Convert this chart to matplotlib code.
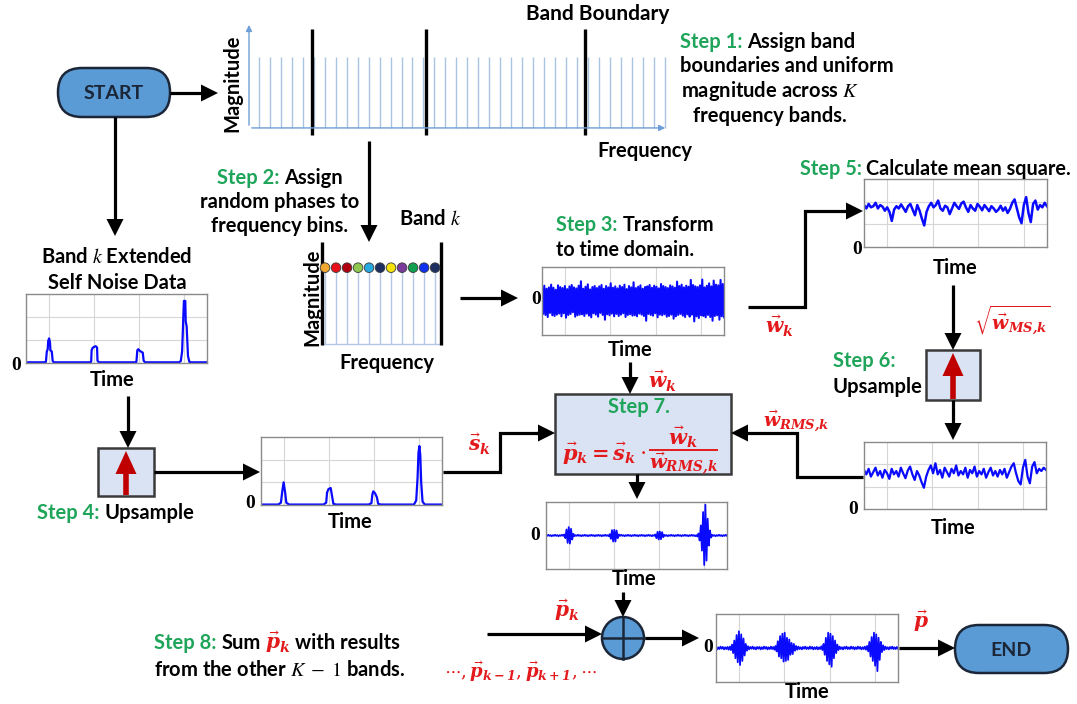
import numpy as np
import matplotlib.pyplot as plt
from matplotlib.patches import FancyBboxPatch, Rectangle, Circle, Polygon

plt.rcParams['font.family'] = ['Lato', 'DejaVu Sans']
plt.rcParams['mathtext.fontset'] = 'stix'

# ---- data ----
# uniform spectrum over all bins, band boundaries in bin units
spec_bins = np.arange(1, 39)
spec_mag = np.ones(len(spec_bins))
band_edges = [5.8, 16.25, 30.7]

# one band: bins with random phase (shown as coloured dots)
band_bins = np.arange(1, 12)
band_mag = np.ones(len(band_bins))
band_lims = [0.7, 11.55]
phase_colors = ['#f0a830', '#e8101a', '#b00010', '#8fc850', '#28a8e0', '#1c2f60',
                '#f4e20a', '#7a3b9a', '#10a050', '#1030f0', '#1c2f60']

# band k extended self noise (time, value)
self_t = [0.00, 0.40, 0.44, 0.46, 0.48, 0.49, 0.51, 0.53, 0.54, 0.57, 0.59, 0.62,
          1.40, 1.44, 1.45, 1.47, 1.50, 1.54, 1.57, 1.58, 1.61,
          2.40, 2.44, 2.46, 2.48, 2.52, 2.58, 2.60, 2.63,
          3.38, 3.42, 3.45, 3.47, 3.48, 3.49, 3.52, 3.53, 3.55, 3.58, 3.61, 3.65, 4.00]
self_v = [0.03, 0.03, 0.05, 0.50, 0.60, 0.95, 1.07, 0.90, 0.55, 0.50, 0.08, 0.03,
          0.03, 0.05, 0.55, 0.65, 0.70, 0.73, 0.68, 0.10, 0.03,
          0.03, 0.05, 0.55, 0.60, 0.52, 0.45, 0.10, 0.03,
          0.03, 0.08, 0.50, 1.60, 2.20, 2.70, 2.70, 1.80, 1.60, 0.30, 0.05, 0.03, 0.03]

# upsampled self noise s_k (time, value)
up_t = [0.00, 0.38, 0.44, 0.47, 0.50, 0.53, 0.56, 0.62,
        1.38, 1.44, 1.46, 1.49, 1.54, 1.57, 1.60, 1.66,
        2.38, 2.44, 2.46, 2.48, 2.52, 2.56, 2.59, 2.65,
        3.38, 3.43, 3.46, 3.48, 3.50, 3.52, 3.54, 3.57, 3.62, 4.00]
up_v = [0.02, 0.02, 0.10, 0.60, 1.00, 0.60, 0.10, 0.02,
        0.02, 0.10, 0.55, 0.70, 0.75, 0.40, 0.05, 0.02,
        0.02, 0.08, 0.45, 0.60, 0.52, 0.35, 0.05, 0.02,
        0.02, 0.20, 1.20, 2.30, 2.60, 2.20, 1.00, 0.15, 0.02, 0.02]

# white noise in time domain w_k
w_k = [0.42, -0.38, 0.45, -0.41, 0.36, -0.47, 0.40, -0.35, 0.48, -0.42, 0.39, -0.44, 0.33, -0.40, 0.46, -0.37,
       0.41, -0.45, 0.38, -0.36, 0.44, -0.49, 0.35, -0.41, 0.43, -0.38, 0.47, -0.33, 0.40, -0.46, 0.37, -0.42,
       0.45, -0.40, 0.58, -0.39, 0.36, -0.44, 0.42, -0.37, 0.49, -0.43, 0.34, -0.48, 0.41, -0.36, 0.44, -0.40,
       0.38, -0.46, 0.43, -0.35, 0.47, -0.41, 0.36, -0.55, 0.44, -0.39, 0.40, -0.42, 0.52, -0.37, 0.39, -0.45,
       0.43, -0.38, 0.37, -0.44, 0.45, -0.40, 0.41, -0.36, 0.48, -0.47, 0.35, -0.41, 0.44, -0.39, 0.40, -0.43,
       0.55, -0.42, 0.38, -0.45, 0.42, -0.37, 0.46, -0.40, 0.36, -0.44, 0.41, -0.58, 0.43, -0.38, 0.47, -0.41,
       0.39, -0.43, 0.45, -0.36, 0.42, -0.48, 0.37, -0.40, 0.50, -0.42, 0.44, -0.39, 0.41, -0.46, 0.38, -0.44,
       0.46, -0.40, 0.43, -0.52, 0.39, -0.45, 0.57, -0.41, 0.44, -0.38, 0.48, -0.43, 0.40, -0.47, 0.45, -0.39,
       0.42, -0.46, 0.62, -0.40, 0.47, -0.60, 0.43, -0.45, 0.41, -0.50, 0.46, -0.42, 0.63, -0.44, 0.40, -0.48,
       0.45, -0.41, 0.52, -0.47, 0.43, -0.58, 0.60, -0.44, 0.48, -0.42, 0.46, -0.55, 0.62, -0.45, 0.50, -0.48]

# mean square of w_k
w_ms = [1.85, 1.70, 1.90, 1.75, 1.80, 1.95, 1.70, 1.85, 1.78, 1.60,
        1.75, 1.55, 1.15, 1.65, 1.80, 1.70, 1.88, 1.72, 1.55, 1.80,
        1.90, 1.65, 1.40, 1.85, 1.60, 1.25, 0.95, 1.55, 1.80, 1.95,
        1.75, 1.85, 2.05, 1.70, 1.60, 1.82, 1.75, 1.45, 1.70, 1.95,
        1.80, 1.68, 1.92, 2.00, 1.75, 1.55, 1.85, 1.70, 1.60, 1.90,
        1.78, 1.62, 1.85, 1.72, 1.58, 1.80, 1.70, 1.55, 1.65, 1.82,
        1.60, 1.75, 1.50, 1.68, 1.95, 2.10, 1.70, 1.30, 1.05, 1.85,
        2.20, 1.50, 1.10, 1.90, 2.05, 1.65, 1.85, 1.75, 1.95, 1.80]

# upsampled RMS
w_rms = [1.75, 1.55, 1.80, 1.45, 1.65, 1.85, 1.50, 1.70, 1.40, 1.75,
         1.60, 1.35, 1.80, 1.55, 1.70, 1.45, 1.85, 1.60, 1.38, 1.72,
         1.90, 1.55, 1.30, 1.70, 1.50, 1.20, 0.95, 1.45, 1.75, 1.95,
         1.60, 2.05, 1.55, 1.75, 1.40, 1.85, 1.65, 1.45, 1.80, 1.60,
         1.95, 1.50, 1.70, 1.55, 1.85, 1.40, 1.75, 1.60, 1.90, 1.45,
         1.70, 1.55, 1.80, 1.40, 1.65, 1.85, 1.50, 1.70, 1.45, 1.75,
         1.55, 1.80, 1.40, 1.65, 1.90, 2.05, 1.60, 1.25, 1.10, 1.85,
         2.20, 1.45, 1.15, 1.90, 2.10, 1.60, 1.80, 1.70, 1.85, 1.75]

# band k result p_k
p_k = [0.01, -0.01, 0.02, -0.01, 0.01, -0.02, 0.01, -0.01, 0.02, -0.01, 0.01, -0.02, 0.01, -0.01, 0.02, -0.01, 0.03, -0.08, 0.18, -0.22,
       0.25, -0.24, 0.20, -0.12, 0.05, -0.02, 0.01, -0.01, 0.02, -0.01, 0.01, -0.02, 0.01, -0.01, 0.02, -0.01, 0.01, -0.02, 0.01, -0.01,
       0.02, -0.01, 0.01, -0.02, 0.01, -0.01, 0.02, -0.01, 0.01, -0.02, 0.01, -0.01, 0.02, -0.01, 0.01, -0.02, 0.04, -0.10, 0.16, -0.18,
       0.17, -0.18, 0.15, -0.08, 0.03, -0.01, 0.02, -0.01, 0.01, -0.02, 0.01, -0.01, 0.02, -0.01, 0.01, -0.02, 0.01, -0.01, 0.02, -0.01,
       0.01, -0.02, 0.01, -0.01, 0.02, -0.01, 0.01, -0.02, 0.01, -0.01, 0.02, -0.01, 0.01, -0.02, 0.01, -0.01, 0.03, -0.08, 0.11, -0.12,
       0.12, -0.11, 0.10, -0.05, 0.02, -0.01, 0.01, -0.02, 0.01, -0.01, 0.02, -0.01, 0.01, -0.02, 0.01, -0.01, 0.02, -0.01, 0.01, -0.02,
       0.01, -0.01, 0.02, -0.01, 0.01, -0.02, 0.01, -0.01, 0.02, -0.01, 0.01, -0.02, 0.01, -0.03, 0.06, -0.15, 0.30, -0.45, 0.70, -0.88,
       0.92, -0.75, 0.50, -0.30, 0.15, -0.06, 0.02, -0.01, 0.01, -0.02, 0.01, -0.01, 0.02, -0.01, 0.01, -0.02, 0.01, -0.01, 0.02, -0.01]

# final summed signal p
p_sum = [0.03, -0.04, 0.02, -0.03, 0.04, -0.02, 0.03, -0.04, 0.02, -0.03, 0.03, -0.05, 0.04, -0.06, 0.10, -0.15, 0.22, -0.30, 0.38, -0.42,
         0.49, -0.50, 0.40, -0.38, 0.28, -0.22, 0.12, -0.08, 0.05, -0.04, 0.03, -0.02, 0.04, -0.03, 0.02, -0.04, 0.03, -0.02, 0.03, -0.04,
         0.02, -0.03, 0.04, -0.02, 0.03, -0.04, 0.02, -0.03, 0.04, -0.03, 0.03, -0.05, 0.06, -0.10, 0.20, -0.25, 0.35, -0.30, 0.42, -0.40,
         0.45, -0.38, 0.30, -0.35, 0.25, -0.20, 0.15, -0.18, 0.12, -0.08, 0.06, -0.05, 0.04, -0.03, 0.02, -0.04, 0.03, -0.02, 0.04, -0.03,
         0.02, -0.03, 0.04, -0.02, 0.03, -0.04, 0.02, -0.03, 0.03, -0.04, 0.02, -0.03, 0.05, -0.06, 0.12, -0.20, 0.30, -0.38, 0.45, -0.48,
         0.42, -0.55, 0.35, -0.30, 0.22, -0.15, 0.10, -0.06, 0.04, -0.03, 0.02, -0.04, 0.03, -0.02, 0.04, -0.03, 0.02, -0.03, 0.04, -0.02,
         0.03, -0.04, 0.02, -0.03, 0.04, -0.02, 0.03, -0.04, 0.02, -0.03, 0.04, -0.05, 0.06, -0.10, 0.18, -0.25, 0.32, -0.38, 0.45, -0.52,
         0.40, -0.68, 0.30, -0.35, 0.18, -0.12, 0.08, -0.06, 0.04, -0.03, 0.02, -0.04, 0.03, -0.02, 0.04, -0.03, 0.02, -0.03, 0.03, -0.02]

GREEN = '#1fa55a'
RED = '#e31a1c'
BLUE = '#0a0aff'
FS = 14.5
MS = 14.5  # size of the red vector labels
VFONT = 'dejavuserif'

W, H = 1077, 704
fig = plt.figure(figsize=(W / 100, H / 100), dpi=100)
ax = fig.add_axes([0, 0, 1, 1])
ax.set_xlim(0, W)
ax.set_ylim(H, 0)
ax.axis('off')
ax.set_zorder(10)  # arrows and labels above the small plots
rend = fig.canvas.get_renderer()


def line(pts, lw=2.3):
    xs, ys = zip(*pts)
    ax.plot(xs, ys, color='black', lw=lw, solid_joinstyle='miter', solid_capstyle='butt', zorder=4)


def arrow(pts, head=17, width=17, lw=2.3, color='black'):
    (x0, y0), (x1, y1) = pts[-2], pts[-1]
    d = np.hypot(x1 - x0, y1 - y0)
    ux, uy = (x1 - x0) / d, (y1 - y0) / d
    bx, by = x1 - ux * head, y1 - uy * head
    xs = [p[0] for p in pts[:-1]] + [bx + ux]
    ys = [p[1] for p in pts[:-1]] + [by + uy]
    ax.plot(xs, ys, color=color, lw=lw, solid_joinstyle='miter', solid_capstyle='butt', zorder=4)
    ax.add_patch(Polygon([(x1, y1), (bx - uy * width / 2, by + ux * width / 2),
                          (bx + uy * width / 2, by - ux * width / 2)],
                         closed=True, fc=color, ec='none', zorder=4))


def rich(x, y, parts, size=FS, ha='left'):
    # parts: (text, colour, gap before) drawn on one baseline
    texts, cur = [], x
    for s, c, gap in parts:
        cur += gap
        if s.startswith('$'):
            t = ax.text(cur, y, s, color=c, fontsize=MS, va='baseline', ha='left',
                        math_fontfamily=VFONT, zorder=6)
        else:
            t = ax.text(cur, y, s, color=c, fontsize=size, fontweight='bold',
                        va='baseline', ha='left', zorder=6)
        cur += t.get_window_extent(rend).width
        texts.append(t)
    if ha != 'left':
        shift = (cur - x) if ha == 'right' else (cur - x) / 2
        for t in texts:
            t.set_x(t.get_position()[0] - shift)
    return texts


def label(x, y, s, size=FS, color='black', rot=0):
    ax.text(x, y, s, fontsize=size, fontweight='bold', color=color, ha='center',
            va='center', rotation=rot, zorder=6)


def vec(x, y, s, ha='center', size=MS):
    ax.text(x, y, s, fontsize=size, color=RED, ha=ha, va='center',
            math_fontfamily=VFONT, zorder=6)


def zero(x, y):
    ax.text(x, y, '0', fontsize=14, fontweight='bold', family='Liberation Serif',
            ha='right', va='center', zorder=6)


def mini(x0, y0, x1, y1, ylim, hgrid=()):
    a = fig.add_axes([x0 / W, 1 - y1 / H, (x1 - x0) / W, (y1 - y0) / H])
    a.set_xlim(0, 4)
    a.set_ylim(*ylim)
    a.set_xticks([0.5, 1.5, 2.5, 3.5])
    a.set_yticks(hgrid)
    a.set_axisbelow(True)
    a.grid(True, color='#d6d6d6', lw=0.8)
    a.tick_params(length=0, labelleft=False, labelbottom=False)
    for s in a.spines.values():
        s.set_color('#8a8a8a')
        s.set_linewidth(1.0)
    return a


def pill(x0, y0, x1, y1, text):
    ax.add_patch(FancyBboxPatch((x0, y0), x1 - x0, y1 - y0,
                                boxstyle='round,pad=0,rounding_size=%d' % ((y1 - y0) / 2),
                                fc='#5b9bd5', ec='#1b2738', lw=1.8, zorder=3))
    ax.text((x0 + x1) / 2, (y0 + y1) / 2 + 1, text, fontsize=14, fontweight='bold',
            color='#1b2738', ha='center', va='center', zorder=6)


def up_box(x0, y0, x1, y1):
    ax.add_patch(Rectangle((x0, y0), x1 - x0, y1 - y0, fc='#dae3f3', ec='#3a3a3a', lw=1.8, zorder=3))
    cx = (x0 + x1) / 2
    ax.plot([cx, cx], [y1 - 1, y0 + 24], color='#c00000', lw=4, solid_capstyle='butt', zorder=4)
    ax.add_patch(Polygon([(cx, y0 + 3), (cx - 10.5, y0 + 26), (cx + 10.5, y0 + 26)],
                         closed=True, fc='#c00000', ec='none', zorder=4))


# ---- START and full spectrum ----
pill(58, 68, 170, 117, 'START')
arrow([(170, 93), (218, 93)])
arrow([(115, 117), (115, 236)])

sp = fig.add_axes([249 / W, 1 - 140 / H, 419 / W, 120 / H])
sp.set_xlim(0.09, 38.3)
sp.set_ylim(-0.17, 1.52)
sp.axis('off')
sp.vlines(spec_bins, 0, spec_mag, color='#a9c3e3', lw=1.0)
sp.vlines(band_edges, -0.1, 1.39, color='black', lw=2.4)
sp.annotate('', xy=(0.09, 1.49), xytext=(0.09, 0),
            arrowprops=dict(arrowstyle='-|>', color='#6f9fd8', lw=1.0, mutation_scale=9))
sp.annotate('', xy=(38.3, 0), xytext=(0.09, 0),
            arrowprops=dict(arrowstyle='-|>', color='#6f9fd8', lw=1.0, mutation_scale=9))
label(232, 83, 'Magnitude', size=14.5, rot=90)
label(598, 14, 'Band Boundary', size=15)
label(645, 151, 'Frequency', size=14.5)

rich(680, 48, [('Step 1:', GREEN, 0), ('Assign band', 'black', 5)])
rich(680, 72, [('boundaries and uniform', 'black', 0)])
rich(681, 97, [('magnitude across $\\mathit{K}$', 'black', 0)])
rich(693, 122, [('frequency bands.', 'black', 0)])

# ---- step 2: one band with random phases ----
arrow([(369, 141), (369, 242)])
rich(280, 184, [('Step 2:', GREEN, 0), ('Assign', 'black', 5)], ha='center')
rich(280, 208, [('random phases to', 'black', 0)], ha='center')
rich(280, 232, [('frequency bins.', 'black', 0)], ha='center')
label(430, 219, 'Band $\\mathit{k}$')

bk = fig.add_axes([318 / W, 1 - 350 / H, 127 / W, 112 / H])
bk.set_xlim(0.364, 11.9)
bk.set_ylim(-0.079, 1.389)
bk.axis('off')
bk.vlines(band_bins, 0, band_mag, color='#b4c7e7', lw=1.0)
bk.hlines(0, band_lims[0], band_lims[1], color='#b4c7e7', lw=1.0)
bk.vlines(band_lims, -0.013, 1.34, color='black', lw=2.4)
bk.scatter(band_bins, band_mag, s=48, c=phase_colors, edgecolors='#3a3a3a', linewidths=0.6, zorder=3)
label(312, 297, 'Magnitude', rot=90)
label(387, 363, 'Frequency')

# ---- step 3: time domain ----
arrow([(460, 298), (518, 298)])
rich(556, 231, [('Step 3:', GREEN, 0), ('Transform', 'black', 5)], size=14.2)
rich(556, 256, [('to time domain.', 'black', 0)], size=14.2)
a3 = mini(542, 267, 724, 335, (-1, 1))
a3.plot(np.linspace(0, 4, len(w_k)), w_k, color=BLUE, lw=1.5)
zero(541, 300)
label(630, 350, 'Time')

# ---- step 5: mean square ----
arrow([(748, 307), (805, 307), (805, 211), (863, 211)])
vec(779, 326, r'$\vec{\mathbfit{w}}_{\mathbfit{k}}$')
rich(800, 175, [('Step 5:', GREEN, 0), ('Calculate mean square.', 'black', 4)], size=14.3)
a5 = mini(864, 179, 1047, 247, (0, 3), hgrid=(1, 2))
a5.plot(np.linspace(0, 4, len(w_ms)), w_ms, color=BLUE, lw=1.8)
zero(862, 249)
label(955, 268, 'Time')

# ---- step 6: upsample RMS ----
arrow([(953, 285), (953, 350)])
vec(1012, 320, r'$\sqrt{\vec{\mathbfit{w}}_{\mathbfit{MS{,}k}}}$', size=13.5)
up_box(926, 350, 980, 400)
rich(833, 367, [('Step 6:', GREEN, 0)])
rich(833, 393, [('Upsample', 'black', 0)])
arrow([(953, 400), (953, 440)])
a6 = mini(864, 442, 1046, 509, (0, 3), hgrid=(1, 2))
a6.plot(np.linspace(0, 4, len(w_rms)), w_rms, color=BLUE, lw=1.6)
zero(858, 509)
label(953, 528, 'Time')
arrow([(863, 477), (797, 477), (797, 433), (731, 433)])
vec(796, 421, r'$\vec{\mathbfit{w}}_{\mathbfit{RMS{,}k}}$', size=13.5)

# ---- left branch: self noise and step 4 ----
label(117, 257, 'Band $\\mathit{k}$ Extended')
label(117, 283, 'Self Noise Data')
a0 = mini(26, 294, 207, 363, (0, 3), hgrid=(1, 2))
a0.plot(self_t, self_v, color=BLUE, lw=1.6)
zero(21, 366)
label(112, 380, 'Time')
arrow([(128, 396), (128, 448)])
up_box(98, 448, 154, 496)
rich(37, 519, [('Step 4:', GREEN, 0), ('Upsample', 'black', 5)])
arrow([(154, 472), (260, 472)])
a4 = mini(261, 437, 442, 505, (0, 3), hgrid=(1, 2))
a4.plot(up_t, up_v, color=BLUE, lw=1.6)
zero(255, 504)
label(350, 522, 'Time')
line([(443, 472), (500, 472), (500, 433), (538, 433)])
arrow([(536, 433), (555, 433)])
vec(479, 444, r'$\vec{\mathbfit{s}}_{\mathbfit{k}}$')

# ---- step 7 ----
arrow([(630, 362), (630, 394)])
vec(662, 381, r'$\vec{\mathbfit{w}}_{\mathbfit{k}}$')
ax.add_patch(Rectangle((555, 394), 176, 80, fc='#dae3f3', ec='#3a3a3a', lw=1.8, zorder=3))
label(639, 407, 'Step 7.', color=GREEN)
# p_k = s_k . w_k / w_RMS,k with a full size fraction
ax.text(562, 454, r'$\vec{\mathbfit{p}}_{\mathbfit{k}}\mathbf{=}\vec{\mathbfit{s}}_{\mathbfit{k}}\cdot$',
        fontsize=15, color=RED, ha='left', va='center', math_fontfamily=VFONT, zorder=6)
ax.plot([650, 717], [450, 450], color=RED, lw=1.4, zorder=6)
ax.text(683, 437, r'$\vec{\mathbfit{w}}_{\mathbfit{k}}$', fontsize=15, color=RED,
        ha='center', va='center', math_fontfamily=VFONT, zorder=6)
ax.text(683, 464, r'$\vec{\mathbfit{w}}_{\mathbfit{RMS{,}k}}$', fontsize=14, color=RED,
        ha='center', va='center', math_fontfamily=VFONT, zorder=6)
arrow([(637, 474), (637, 499)])
a7 = mini(546, 502, 727, 569, (-1, 1))
a7.set_yticks([])
a7.plot(np.linspace(0, 4, len(p_k)), p_k, color=BLUE, lw=1.3)
zero(540, 535)
label(634, 579, 'Time')

# ---- step 8: sum over bands ----
arrow([(623, 592), (623, 617)])
vec(567, 610, r'$\vec{\mathbfit{p}}_{\mathbfit{k}}$')
ax.add_patch(Circle((623, 638), 21, fc='#5b9bd5', ec='#1b2738', lw=1.8, zorder=3))
ax.plot([602, 644], [638, 638], color='#1b2738', lw=1.8, zorder=4)
ax.plot([623, 623], [617, 659], color='#1b2738', lw=1.8, zorder=4)
arrow([(487, 634), (602, 634)])
vec(444, 672, r'$\cdots,\vec{\mathbfit{p}}_{\mathbfit{k-1}},\vec{\mathbfit{p}}_{\mathbfit{k+1}},\cdots$',
    ha='left', size=13)
rich(154, 649, [('Step 8:', GREEN, 0), ('Sum', 'black', 5),
                (r'$\vec{\mathbfit{p}}_{\mathbfit{k}}$', RED, 4), ('with results', 'black', 5)])
rich(154, 676, [('from the other $\\mathit{K}\\;-\\;1$ bands.', 'black', 0)])

arrow([(645, 638), (699, 638)])
af = mini(716, 614, 898, 682, (-1, 1))
af.set_yticks([])
af.plot(np.linspace(0, 4, len(p_sum)), p_sum, color=BLUE, lw=1.3)
zero(713, 648)
label(807, 692, 'Time')
arrow([(899, 648), (955, 648)])
vec(921, 621, r'$\vec{\mathbfit{p}}$')
pill(955, 625, 1068, 673, 'END')

fig.savefig('out.png', dpi=100)
